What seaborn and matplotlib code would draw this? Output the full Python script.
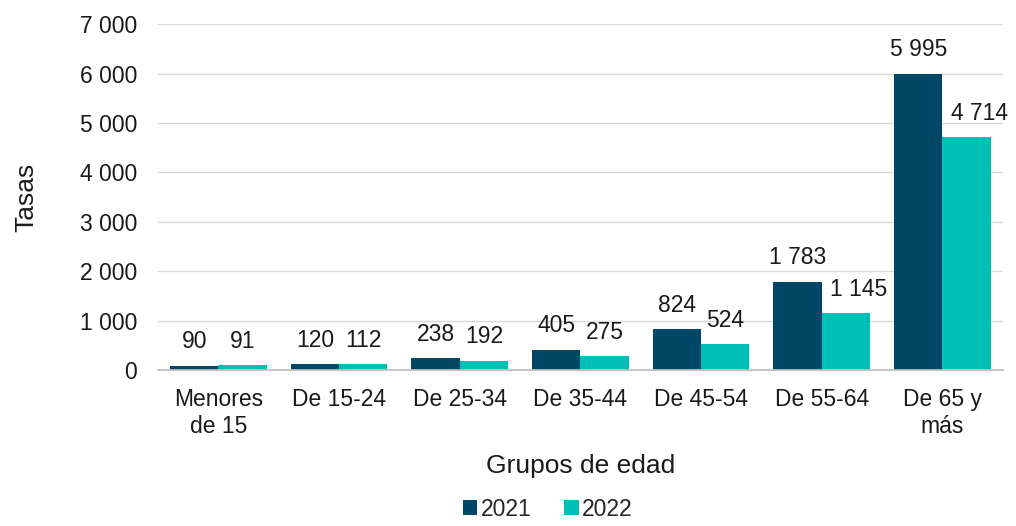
import matplotlib
matplotlib.use("Agg")
import matplotlib.pyplot as plt
import seaborn as sns
import pandas as pd
from matplotlib.ticker import FuncFormatter

# Datos
grupos = ["Menores\nde 15", "De 15-24", "De 25-34", "De 35-44", "De 45-54", "De 55-64", "De 65 y\nmás"]
tasas_2021 = [90, 120, 238, 405, 824, 1783, 5995]
tasas_2022 = [91, 112, 192, 275, 524, 1145, 4714]
anios = ["2021", "2022"]
colores = ["#004866", "#00BFB6"]

df = pd.DataFrame({
    "grupo": grupos * 2,
    "tasa": tasas_2021 + tasas_2022,
    "anio": [anios[0]] * len(grupos) + [anios[1]] * len(grupos),
})

def miles(v, pos=None):
    return f"{int(round(v)):,}".replace(",", " ")

sns.set_theme(style="white")
plt.rcParams["font.family"] = ["Liberation Sans", "DejaVu Sans"]

fig = plt.figure(figsize=(10.16, 5.26), dpi=100)
ax = fig.add_axes([0.1555, 0.2966, 0.8315, 0.6574])

sns.barplot(data=df, x="grupo", y="tasa", hue="anio", palette=colores,
            width=0.8, saturation=1, linewidth=0, ax=ax)

for k, cont in enumerate(ax.containers):
    anns = ax.bar_label(cont, labels=[miles(v) for v in cont.datavalues],
                        padding=9, fontsize=16.5, color="#1a1a1a")
    if k == 1:
        # en los dos ultimos grupos la etiqueta se corre a la derecha (como en Excel)
        for a in anns[-2:]:
            a.xyann = (9, 9)

ax.set_ylim(0, 7000)
ax.set_yticks(range(0, 7001, 1000))
ax.yaxis.set_major_formatter(FuncFormatter(miles))
ax.grid(axis="y", color="#d9d9d9", linewidth=1)
ax.set_axisbelow(True)
for s in ["top", "right", "left"]:
    ax.spines[s].set_visible(False)
ax.spines["bottom"].set_color("#bfbfbf")
ax.tick_params(axis="both", labelsize=16.5, colors="#1a1a1a", length=0)
ax.tick_params(axis="y", pad=15)
ax.tick_params(axis="x", pad=13)

ax.set_xlabel("Grupos de edad", fontsize=19, color="#1a1a1a", labelpad=12)
ax.set_ylabel("Tasas", fontsize=19, color="#1a1a1a", labelpad=30)

ax.legend(loc="center", bbox_to_anchor=(0.539, 0.032), bbox_transform=fig.transFigure,
          ncol=2, frameon=False, fontsize=16.5, handlelength=0.65, handleheight=0.65,
          handletextpad=0.15, columnspacing=1.4)

fig.savefig("out.png", dpi=100)
